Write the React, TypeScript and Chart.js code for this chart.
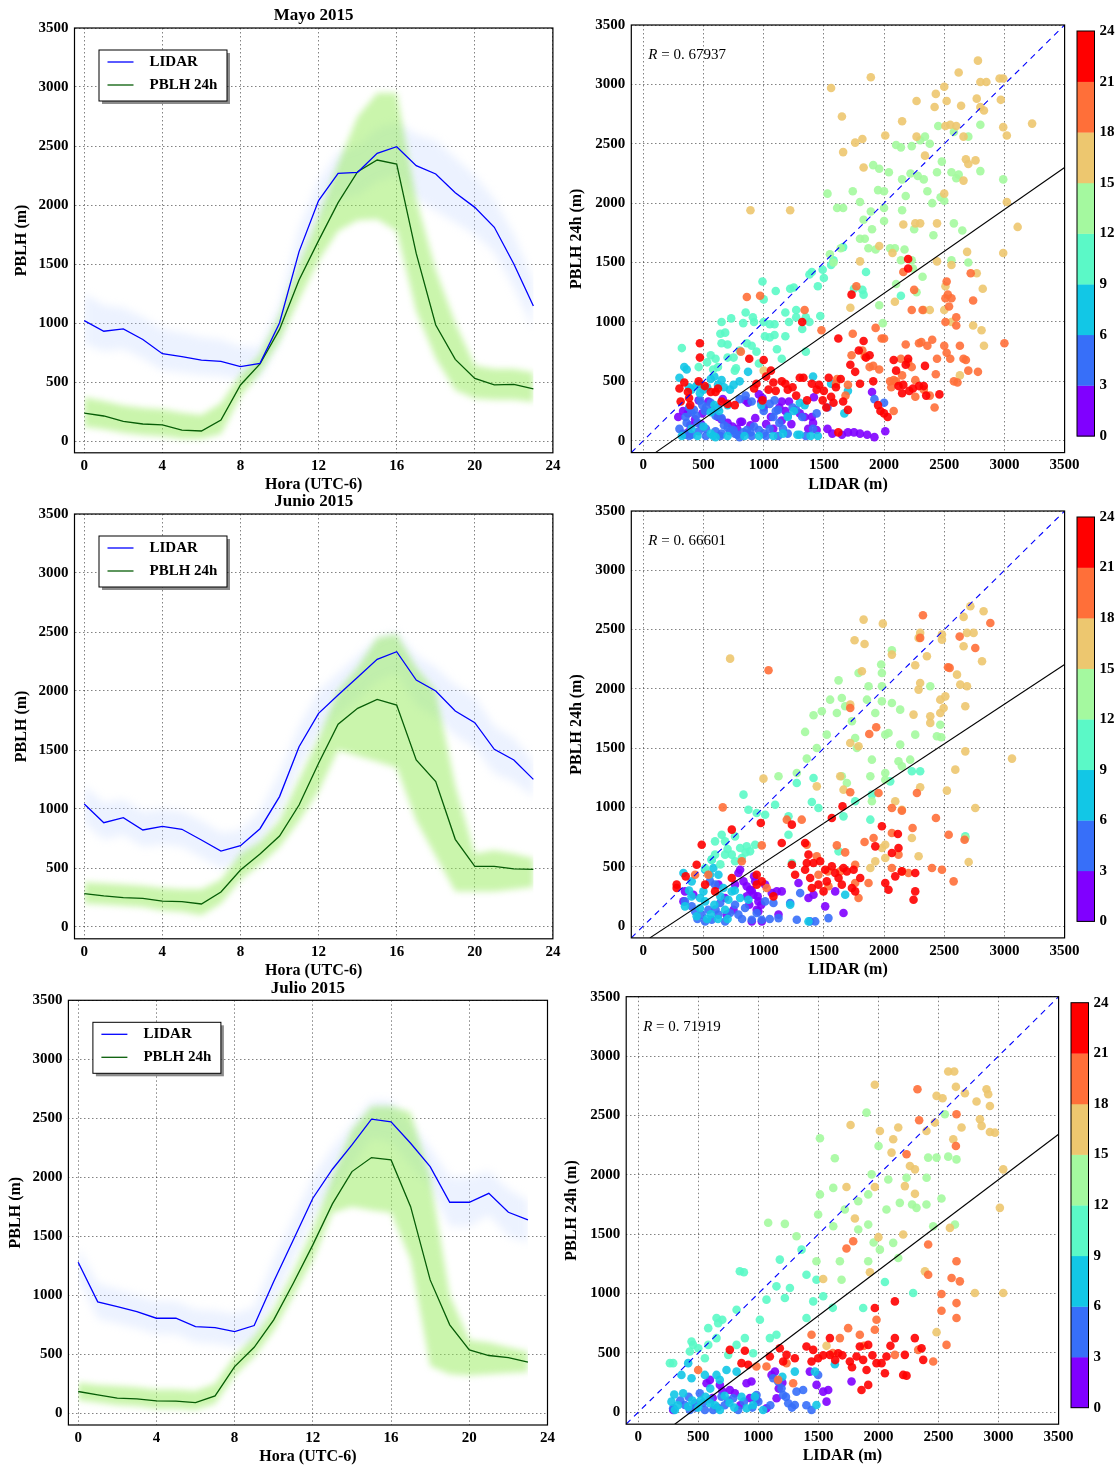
import React, { useEffect, useRef } from 'react';
import { Chart, registerables } from 'chart.js';

const softFill = {
  id: 'softFill',
  beforeDatasetDraw(chart: any, args: any) {
    const ds = chart.data.datasets[args.index];
    if (ds && ds.soft) { chart.ctx.save(); chart.ctx.filter = `blur(${ds.soft}px)`; }
  },
  afterDatasetDraw(chart: any, args: any) {
    const ds = chart.data.datasets[args.index];
    if (ds && ds.soft) chart.ctx.restore();
  },
};
Chart.register(softFill as any);
Chart.register(...registerables);

// ---------------- DATA ----------------
const HOURS = [0,1,2,3,4,5,6,7,8,9,10,11,12,13,14,15,16,17,18,19,20,21,22,23];
const HOUR_TICKS = [0,4,8,12,16,20,24];
const PBLH_TICKS = [0,500,1000,1500,2000,2500,3000,3500];
const CB_TICKS = [0,3,6,9,12,15,18,21,24];
const BAND_COLORS = ['#8000ff','#376ff9','#12c7e6','#5bf9c7','#a4f99f','#edc76f','#ff6f39','#ff0000'];
const SERIES_NAMES = ['LIDAR', 'PBLH 24h'];

// Mayo 2015
const mayoLidar = [1020,930,950,860,740,715,685,675,630,658,1000,1605,2037,2268,2277,2438,2494,2333,2263,2104,1980,1811,1500,1144];
const mayoLidarLo = [820,760,780,700,600,580,560,550,520,540,850,1400,1850,2050,2080,2200,2250,2050,1950,1850,1750,1600,1300,950];
const mayoLidarHi = [1250,1150,1130,1050,950,920,880,860,800,800,1150,1800,2200,2450,2500,2650,2700,2600,2550,2400,2250,2050,1750,1350];
const mayoPblh = [237,212,167,144,136,93,85,178,475,653,946,1364,1698,2020,2282,2381,2347,1590,983,692,531,475,480,441];
const mayoPblhLo = [120,100,70,50,40,20,20,60,380,580,850,1200,1530,1780,1870,1880,1780,1100,700,430,360,350,350,330];
const mayoPblhHi = [370,340,300,280,270,240,220,320,560,730,1060,1500,1900,2350,2750,2950,2950,2050,1450,1000,640,610,610,580];

// Junio 2015
const junioLidar = [1042,884,927,822,853,828,737,644,689,833,1105,1528,1811,1966,2116,2268,2333,2093,2000,1831,1732,1506,1415,1251];
const junioLidarLo = [880,740,780,680,700,680,590,500,550,690,950,1350,1620,1800,1930,2080,2150,1880,1780,1620,1520,1300,1230,1100];
const junioLidarHi = [1200,1050,1080,980,1000,980,900,800,820,980,1300,1700,2000,2150,2300,2450,2500,2300,2200,2050,1950,1700,1600,1400];
const junioPblh = [282,263,249,243,220,215,195,297,483,619,771,1034,1387,1718,1853,1929,1881,1415,1232,743,514,514,492,489];
const junioPblhLo = [200,190,180,170,140,130,100,200,400,530,680,900,1150,1500,1450,1400,1350,900,600,300,300,300,320,340];
const junioPblhHi = [380,370,360,350,330,320,320,400,620,720,900,1250,1600,2000,2200,2450,2480,2200,2000,1200,620,650,620,580];

// Julio 2015
const julioLidar = [1280,944,904,862,805,805,734,726,692,743,1116,1469,1822,2068,2274,2492,2469,2288,2090,1788,1788,1864,1703,1638];
const julioLidarLo = [1150,800,760,720,670,670,600,590,560,600,950,1300,1650,1880,2100,2330,2300,2100,1920,1580,1580,1680,1500,1450];
const julioLidarHi = [1400,1100,1050,1000,950,950,880,870,840,900,1300,1650,2000,2250,2450,2650,2650,2450,2250,2000,2000,2050,1900,1800];
const julioPblh = [184,155,127,121,105,102,90,147,395,559,791,1102,1427,1774,2048,2167,2147,1751,1130,749,537,489,472,432];
const julioPblhLo = [110,90,70,60,40,40,30,80,320,480,700,1000,1300,1700,1750,1720,1700,1300,400,330,320,330,340,350];
const julioPblhHi = [260,240,230,220,200,200,190,250,480,650,880,1200,1560,2000,2400,2600,2600,2550,2000,1000,620,600,560,520];

// Scatter: [LIDAR, PBLH 24h] grouped by hour band (0-3, 3-6, ..., 21-24)
const mayoH00 = [[290,200],[330,250],[370,230],[390,130],[430,180],[460,340],[490,230],[540,330],[580,260],[620,200],[660,350],[700,150],[740,120],[780,100],[820,160],[850,340],[890,130],[930,190],[960,390],[980,330],[1000,280],[1020,140],[1060,200],[1080,100],[1130,280],[1150,170],[1180,250],[1210,330],[1230,140],[1300,230],[1340,200],[1370,100],[1400,200],[1410,150],[1440,90],[1530,100],[1570,60],[1650,50],[1700,70],[1750,70],[1800,60],[1860,50],[1920,30],[2010,80],[1900,410],[1150,330],[990,360],[870,320],[650,180],[480,140],[375,73],[806,159],[1417,366]];
const mayoH03 = [[300,100],[330,60],[350,200],[360,150],[380,280],[400,240],[420,260],[440,210],[450,150],[470,340],[490,300],[510,250],[520,280],[560,320],[580,250],[600,210],[620,280],[650,190],[670,130],[700,110],[720,80],[750,90],[780,50],[800,30],[830,70],[860,90],[890,70],[920,120],[960,90],[1000,60],[1050,100],[1080,200],[1100,250],[1130,150],[1160,100],[1000,250],[1050,310],[1090,340],[1120,260],[800,350],[850,380],[900,330],[1200,210],[1240,280],[1270,260],[1320,200],[1440,230],[1410,100],[1530,280],[1920,350],[2000,320],[600,80],[650,60],[400,50],[460,80],[520,100],[350,50],[380,40],[520,40],[640,40],[760,60],[900,40],[1020,40],[1120,40],[1200,60],[1350,40]];
const mayoH06 = [[300,530],[340,620],[360,600],[380,450],[400,430],[440,460],[460,480],[470,400],[500,430],[530,450],[560,520],[590,540],[620,470],[650,510],[670,450],[700,300],[720,430],[750,470],[800,500],[870,580],[1410,540],[1560,480],[1700,420],[1670,230],[1280,50],[1300,50],[1390,40],[1450,40],[500,120],[400,100],[560,60],[600,30],[320,40],[450,40],[580,40],[700,40],[840,40],[960,40],[1080,40],[1160,60],[1250,250],[1300,320],[1340,300],[1200,200],[980,300],[590,300],[560,240],[630,250]];
const mayoH09 = [[320,780],[560,720],[600,690],[620,620],[650,1000],[640,900],[680,910],[650,820],[700,810],[730,1030],[750,700],[770,610],[800,760],[830,990],[850,1080],[860,820],[900,800],[910,1040],[920,1000],[940,750],[960,650],[990,1340],[1000,1190],[1010,880],[1000,1000],[1050,980],[1090,980],[1090,890],[1100,1260],[1110,770],[1150,690],[1180,1080],[1180,880],[1210,1000],[1220,1280],[1250,1290],[1270,1040],[1320,940],[1350,1040],[1350,750],[1380,1400],[1400,1420],[1450,1300],[1470,1050],[1490,1440],[1500,1370],[1560,1480],[1580,1520],[1660,1630],[1750,1280],[1820,1270],[1830,1230],[1850,1420],[2140,1220],[1380,1000],[700,700],[580,600],[460,620],[530,660],[760,590],[1270,1100],[1050,870]];
const mayoH12 = [[1530,2080],[1610,1960],[1660,1960],[1740,2100],[1800,2010],[1800,1700],[1840,1700],[1870,1620],[1890,1930],[1900,1780],[1910,2320],[1950,2110],[1960,2290],[2000,2100],[2000,1960],[2000,1850],[2040,2260],[2050,1620],[2100,2490],[2140,2470],[2150,2200],[2150,1940],[2180,2060],[2220,2250],[2230,2480],[2230,1520],[2250,1780],[2280,2230],[2300,2530],[2330,2200],[2340,2560],[2360,2100],[2380,2500],[2400,2000],[2410,1730],[2440,2260],[2450,2650],[2470,2050],[2480,2350],[2500,2020],[2560,2260],[2580,2600],[2580,1830],[2600,2210],[2620,2240],[2650,1770],[2700,2560],[2800,2660],[2800,2270],[2990,2200],[2560,1520],[2140,1520],[1640,1620],[1580,1500],[1550,1570],[2240,1450],[2090,1620],[1830,1860],[2170,1610],[1930,1610],[2320,1380],[1960,1140],[1990,990],[2100,1320],[2270,1250],[2700,1500]];
const mayoH15 = [[1560,2970],[1650,2730],[1890,3060],[1660,2430],[1760,2510],[1820,2540],[1830,2300],[2010,2570],[2150,2690],[2270,2560],[2270,2860],[2340,2400],[2430,2920],[2420,2810],[2500,2980],[2520,2860],[2510,2650],[2550,2660],[2620,3100],[2640,2820],[2600,2650],[2660,2560],[2680,2370],[2700,2330],[2660,2190],[2780,3200],[2800,3020],[2850,3020],[2800,2810],[2830,2780],[2770,2880],[2760,2360],[2960,3050],[2990,3050],[2970,2870],[2990,2640],[3020,2570],[3230,2670],[3020,2010],[3110,1800],[2990,1580],[2770,1410],[2820,1280],[2810,930],[2830,800],[2740,970],[2690,1590],[2560,1480],[2440,1510],[2440,1830],[2260,1830],[2160,1820],[2500,2080],[2070,1580],[1960,1640],[1800,1510],[1720,1120],[2090,1170],[2330,1100],[2510,1300],[2500,1100],[2560,1000],[2300,1830],[2630,550],[890,1940],[1220,1940],[1000,590],[2380,1100]];
const mayoH18 = [[1480,930],[1740,900],[1770,1300],[1820,760],[1930,950],[1980,860],[2000,860],[1880,620],[1910,630],[1960,600],[2050,500],[2060,450],[2080,510],[2100,500],[2150,550],[2140,690],[2160,1420],[2180,810],[2200,660],[2230,620],[2260,510],[2290,820],[2310,830],[2320,1100],[2360,800],[2380,380],[2400,850],[2420,280],[2430,560],[2440,690],[2500,800],[2510,1000],[2510,1200],[2520,1340],[2530,1230],[2540,1130],[2560,1200],[2600,1040],[2600,970],[2630,800],[2660,690],[2680,680],[2700,590],[2720,1410],[2740,1180],[2780,580],[3000,820],[2520,740],[2580,500],[2550,690],[2610,490],[1600,480],[1700,470],[1680,380],[1730,720],[1840,710],[1610,520],[2250,1270],[2230,1100],[2330,430],[2260,370],[2080,250],[810,750],[860,1210],[970,1220],[1340,1100]];
const mayoH21 = [[300,440],[310,330],[340,490],[370,410],[380,360],[390,300],[460,500],[470,820],[470,700],[510,460],[560,410],[600,410],[620,440],[650,330],[700,310],[760,300],[880,690],[920,440],[940,480],[990,340],[1000,680],[1020,540],[1040,430],[1060,590],[1080,490],[1100,420],[1150,500],[1180,480],[1200,430],[1240,450],[1270,380],[1300,530],[1330,530],[1360,340],[1400,480],[1440,430],[1460,470],[1490,340],[1500,420],[1520,280],[1540,530],[1560,370],[1580,320],[1600,450],[1620,860],[1640,520],[1660,330],[1700,260],[1720,640],[1760,580],[1790,760],[1800,480],[1830,840],[1850,700],[1880,720],[1910,500],[1950,300],[1970,250],[2000,230],[2030,200],[2080,680],[2100,590],[2120,460],[2150,400],[2160,470],[2180,640],[2200,690],[2210,420],[2240,440],[2290,460],[2330,460],[2340,630],[2350,380],[2460,390],[1620,70],[1320,1000],[2200,1530],[2200,1450],[1730,1230]];

const junioH00 = [[346,292],[333,208],[416,264],[624,349],[679,236],[693,96],[749,138],[790,447],[804,475],[832,377],[859,335],[887,306],[915,264],[929,377],[956,208],[942,138],[956,124],[984,39],[901,39],[1012,349],[1067,278],[1109,292],[1150,292],[1123,96],[1289,363],[1372,236],[1414,264],[1511,166],[1594,292],[1663,110],[762,349],[880,180],[920,420],[860,250],[900,300],[950,250],[980,180]];
const junioH03 = [[346,208],[402,166],[430,124],[485,96],[513,39],[568,53],[540,138],[624,96],[679,39],[638,194],[762,180],[790,96],[845,152],[901,53],[942,110],[984,53],[1012,208],[1081,194],[1123,67],[1275,53],[1303,278],[1386,39],[1428,39],[1538,67],[1220,194],[554,377],[596,349],[450,60],[600,140],[720,110],[820,60],[1050,60]];
const junioH06 = [[333,447],[402,377],[346,166],[443,82],[499,292],[554,433],[582,489],[624,433],[665,321],[707,222],[679,138],[735,292],[804,236],[873,222],[513,208],[471,236],[513,475],[568,560],[1220,180],[1372,39],[1677,264],[560,100],[620,60],[470,150],[400,250],[700,60],[530,60],[640,250],[760,300],[380,300],[590,180]];
const junioH09 = [[832,1108],[873,981],[942,953],[1012,939],[1095,1023],[1206,925],[1275,1206],[1414,1248],[1400,1046],[651,770],[679,714],[762,756],[804,658],[859,672],[887,630],[929,686],[735,602],[762,546],[818,574],[679,602],[1206,770],[1455,995],[1760,1052],[1899,1108],[1886,897],[1663,925],[1234,531],[1622,630],[596,602],[568,560],[513,489],[2675,756],[2300,1305],[2231,1305],[2051,1220],[596,714],[700,650],[850,620],[640,520]];
const junioH12 = [[2065,2326],[1976,2205],[1982,2134],[1622,2072],[1788,2134],[1871,2022],[1982,2022],[2384,2022],[1552,1909],[1483,1811],[1414,1777],[1344,1637],[1649,1923],[1677,1853],[1608,1797],[1733,1727],[1858,1909],[1927,1797],[1982,1895],[2065,1881],[2010,1614],[2037,1628],[2134,1825],[2259,1614],[2467,1698],[2439,1600],[2475,1592],[1441,1502],[1358,1412],[1524,1614],[1760,1586],[1774,1502],[1899,1403],[2134,1530],[2120,1389],[2148,1347],[2217,1403],[2010,1291],[2010,1234],[1886,1263],[1899,1052],[1649,1263],[1691,1206],[1123,1263],[1275,1291],[2675,742]];
const junioH15 = [[721,2255],[1830,2584],[1990,2550],[1755,2410],[1838,2379],[2300,2472],[2287,2430],[2481,2458],[2481,2415],[2661,2607],[2717,2697],[2827,2655],[2689,2472],[2744,2472],[2661,2359],[2814,2233],[2356,2275],[2259,2199],[2065,2289],[1816,2148],[2300,2050],[2287,1994],[2606,2120],[2633,2036],[2689,2022],[2467,1909],[2509,1937],[2495,1839],[2675,1853],[2245,1783],[2384,1769],[2467,1797],[2384,1713],[1719,1867],[1719,1544],[1788,1516],[2675,1473],[3063,1412],[2592,1319],[2522,1142],[2300,1170],[2093,1052],[2148,981],[2231,742],[2287,588],[2703,540],[2758,995],[1636,1263],[1663,1150],[1441,1178],[998,1243],[1982,658],[2010,686],[1927,545],[1886,489],[2010,574]];
const junioH18 = [[2323,2621],[2300,2430],[2883,2556],[2758,2345],[2531,2182],[2545,2177],[2628,2441],[1040,2157],[1719,1839],[1935,1676],[1877,1620],[1719,1128],[1954,1122],[2065,995],[2148,973],[2273,1122],[2431,911],[2537,770],[2669,728],[2237,827],[1838,709],[1913,742],[2065,785],[2120,602],[2065,489],[2148,461],[2203,447],[2398,489],[2481,475],[2578,377],[660,1001],[984,680],[1192,897],[1316,897],[1608,680],[1677,621],[1358,686],[1441,588],[1533,461],[1760,363],[1871,363],[1025,321],[818,546],[430,433],[540,433],[1455,433],[1636,461],[1788,236],[1538,335],[1760,517]];
const junioH21 = [[485,686],[735,813],[976,869],[1234,855],[1150,700],[1344,700],[1566,911],[1655,1009],[1982,841],[2115,776],[2065,616],[2120,658],[1927,672],[1372,602],[1358,531],[1413,531],[1469,546],[1234,517],[1261,433],[1344,475],[1386,405],[1511,475],[1566,503],[1663,489],[1594,447],[1524,377],[1622,405],[1691,461],[1747,475],[1802,405],[1733,321],[1760,292],[1649,349],[1400,321],[1455,349],[1497,292],[2093,419],[2148,461],[2259,447],[2010,363],[2037,306],[2259,292],[2245,222],[443,517],[352,419],[277,349],[277,321],[513,349],[735,405],[942,433],[942,349],[1081,250],[984,377],[596,292]];

const julioH00 = [[291,20],[569,245],[597,273],[680,231],[763,188],[805,160],[902,245],[943,259],[985,104],[1068,34],[1110,315],[1138,343],[1152,118],[1429,343],[1485,231],[1540,174],[1582,188],[1568,90],[1776,259],[620,120],[850,60],[1170,200],[700,180],[930,120],[1200,250]];
const julioH03 = [[291,34],[388,62],[430,20],[472,76],[513,160],[555,20],[624,20],[832,20],[985,146],[1124,287],[1165,259],[1193,202],[1207,146],[1249,76],[1318,174],[1373,188],[1443,20],[1498,315],[1304,62],[694,132],[791,118],[720,60],[880,90],[1100,60],[1400,60],[350,100],[420,130],[480,40],[540,80],[600,110],[660,40],[750,100],[950,40],[1000,90],[1230,130],[1280,40]];
const julioH06 = [[416,414],[360,315],[444,287],[555,315],[652,315],[735,357],[679,273],[819,343],[277,90],[305,20],[374,160],[416,48],[597,76],[680,20],[902,34],[957,62],[1040,20],[1304,343],[1471,343],[1637,405],[1484,62],[971,132],[520,100],[760,80],[1200,300],[330,60],[450,100],[500,40],[560,130],[640,60],[720,140],[800,40],[860,130],[300,150],[600,200]];
const julioH09 = [[846,1188],[1179,1286],[1360,1370],[1263,1047],[1151,1061],[1221,963],[1068,949],[1401,1159],[1484,1117],[1457,934],[1540,977],[1401,794],[1873,878],[2054,1097],[2289,1005],[819,864],[652,794],[666,751],[583,709],[444,597],[457,568],[583,568],[652,625],[819,568],[888,625],[1013,780],[1096,625],[1151,653],[957,498],[749,484],[264,414],[291,414],[430,512],[555,456],[1620,880],[700,780],[880,1180],[500,540]];
const julioH12 = [[1901,2524],[1513,2308],[1637,2139],[2001,2243],[1943,2004],[2082,1961],[2234,1975],[2401,1975],[2414,2145],[2484,2145],[2581,2153],[2650,2130],[2553,2510],[1513,1835],[1624,1890],[1720,1708],[1832,1778],[1915,1835],[2067,1708],[2178,1764],[2317,1722],[2525,1801],[1498,1666],[1624,1567],[1832,1539],[1915,1581],[2012,1370],[2123,1427],[1484,1272],[1679,1272],[1693,1117],[1915,1272],[2165,1300],[2456,1567],[2637,1581],[1082,1596],[1221,1587],[1318,1483],[2280,1750],[2400,1750],[1960,1430]];
const julioH15 = [[1970,2758],[2581,2870],[2631,2870],[2645,2741],[2484,2665],[2534,2645],[2720,2687],[2900,2721],[2914,2679],[2817,2617],[2928,2580],[2692,2398],[2845,2468],[2859,2412],[2928,2361],[2970,2355],[2470,2440],[2400,2369],[2165,2398],[2012,2369],[1768,2420],[2123,2299],[2109,2187],[2262,2074],[2304,2046],[2623,2299],[1970,1897],[1734,1897],[2220,1905],[2304,1840],[3039,2046],[3011,1722],[2595,1553],[2206,1497],[2000,1475],[1804,1632],[1929,1179],[2387,1187],[1540,1123],[2803,1005],[3039,1005],[2484,675],[1568,560]];
const julioH18 = [[2325,2721],[2339,2460],[2650,2510],[2645,2243],[2234,2173],[1734,1379],[1790,1441],[2414,1413],[2414,1159],[2650,1272],[2609,1131],[2678,1103],[2525,996],[2525,855],[2650,920],[2650,794],[2567,568],[2456,428],[1984,780],[1970,695],[1845,653],[1748,709],[1443,653],[1679,625],[2137,484],[2331,526],[1068,386],[984,386],[499,357],[1235,414],[1290,245],[1165,273],[1880,560],[1620,500]];
const julioH21 = [[763,526],[888,518],[916,400],[860,414],[1096,470],[1179,540],[1235,484],[1207,428],[1304,456],[1401,554],[1457,526],[1443,428],[1498,456],[1596,484],[1665,498],[1596,625],[1762,428],[1818,470],[1845,554],[1915,568],[1873,442],[1901,357],[1984,414],[2026,414],[2067,470],[2054,329],[2137,625],[2220,484],[2303,625],[2359,540],[2373,442],[2206,315],[2234,309],[1970,878],[2137,934],[1859,188],[1915,231],[1700,480],[1640,440],[1540,480],[1780,380],[1950,480],[2100,560]];

// regression line endpoints [x0, y0, x1, y1]
const mayoFit = [100, -100, 3500, 2300];
const junioFit = [54, -100, 3500, 2206];
const julioFit = [304, -100, 3500, 2342];
const ONE_TO_ONE = [-100, -100, 3500, 3500];

// ---------------- LAYOUT ----------------
const PL = 90, PT = 40, PB = 55, YW = 60, XH = 30;
const SERIF = "'Liberation Serif', 'DejaVu Serif', serif";

function frameFor(rect: any, pr: number) {
  const cl = Math.floor(rect.L - PL), ct = Math.floor(rect.T - PT);
  const w = Math.ceil(rect.R + pr) - cl, h = Math.ceil(rect.B + PB) - ct;
  return {
    cl, ct, w, h,
    pad: { left: rect.L - cl - YW, top: rect.T - ct, right: cl + w - rect.R, bottom: ct + h - rect.B - XH },
  };
}

function axisCommon(min: number, max: number, ticks: number[], isX: boolean) {
  return {
    type: 'linear',
    min, max,
    afterBuildTicks: (s: any) => { s.ticks = ticks.map((v) => ({ value: v })); },
    afterFit: (s: any) => { if (isX) s.height = XH; else s.width = YW; },
    grid: { color: 'rgba(0,0,0,0.55)', lineWidth: 0.9, drawTicks: false },
    border: { display: false, dash: [1.5, 2.5] },
    ticks: {
      color: '#000',
      padding: isX ? 4 : 6,
      font: { family: SERIF, size: 15, weight: 'bold' },
      maxRotation: 0,
      callback: (v: any) => String(v),
    },
  };
}

function drawFrame(ctx: any, ca: any) {
  ctx.save();
  ctx.strokeStyle = '#000';
  ctx.lineWidth = 1.2;
  ctx.strokeRect(ca.left, ca.top, ca.right - ca.left, ca.bottom - ca.top);
  ctx.restore();
}

function drawTitles(ctx: any, ca: any, xTitle: string, yTitle: string, yOff: number) {
  ctx.save();
  ctx.fillStyle = '#000';
  ctx.font = `bold 16px ${SERIF}`;
  ctx.textAlign = 'center';
  ctx.textBaseline = 'middle';
  ctx.fillText(xTitle, (ca.left + ca.right) / 2, ca.bottom + 32);
  ctx.translate(ca.left - yOff, (ca.top + ca.bottom) / 2);
  ctx.rotate(-Math.PI / 2);
  ctx.fillText(yTitle, 0, 0);
  ctx.restore();
}

function LinePanel(props: any) {
  const ref = useRef<HTMLCanvasElement>(null);
  const f = frameFor(props.rect, 40);
  useEffect(() => {
    const xy = (arr: number[]) => arr.map((y, i) => ({ x: HOURS[i], y }));
    const cols = ['#0000ff', '#075d07'];
    const deco = {
      id: 'deco',
      afterDraw(chart: any) {
        const ctx = chart.ctx, ca = chart.chartArea;
        drawFrame(ctx, ca);
        drawTitles(ctx, ca, 'Hora (UTC-6)', 'PBLH (m)', 52.5);
        ctx.save();
        ctx.fillStyle = '#000';
        ctx.font = `bold 17px ${SERIF}`;
        ctx.textAlign = 'center';
        ctx.textBaseline = 'middle';
        ctx.fillText(props.title, (ca.left + ca.right) / 2, ca.top - 12);
        // legend
        const lx = ca.left + 24.5, ly = ca.top + 22, lw = 128, lh = 51;
        ctx.fillStyle = 'rgba(0,0,0,0.45)';
        ctx.fillRect(lx + 3, ly + 3, lw, lh);
        ctx.fillStyle = '#fff';
        ctx.fillRect(lx, ly, lw, lh);
        ctx.strokeStyle = '#000';
        ctx.lineWidth = 1;
        ctx.strokeRect(lx, ly, lw, lh);
        SERIES_NAMES.forEach((name, i) => {
          const yy = ca.top + 34 + i * 23;
          ctx.strokeStyle = cols[i];
          ctx.lineWidth = 1.3;
          ctx.beginPath();
          ctx.moveTo(ca.left + 33, yy);
          ctx.lineTo(ca.left + 59, yy);
          ctx.stroke();
          ctx.fillStyle = '#000';
          ctx.font = `bold 15px ${SERIF}`;
          ctx.textAlign = 'left';
          ctx.fillText(name, ca.left + 75, yy);
        });
        ctx.restore();
      },
    };
    // dataset index 0 is painted last (on top)
    const chart = new Chart(ref.current as any, {
      type: 'line',
      data: {
        datasets: [
          { data: xy(props.lidar), borderColor: cols[0], borderWidth: 1.3, pointRadius: 0, fill: false },
          { data: xy(props.pblh), borderColor: cols[1], borderWidth: 1.3, pointRadius: 0, fill: false },
          { data: xy(props.pblhHi), fill: '+1', backgroundColor: 'rgba(150,236,90,0.5)', borderWidth: 0, pointRadius: 0, soft: 3 } as any,
          { data: xy(props.pblhLo), fill: false, borderWidth: 0, pointRadius: 0 },
          { data: xy(props.lidarHi), fill: '+1', backgroundColor: 'rgba(185,208,255,0.28)', borderWidth: 0, pointRadius: 0, soft: 4 } as any,
          { data: xy(props.lidarLo), fill: false, borderWidth: 0, pointRadius: 0 },
        ],
      },
      options: {
        animation: false,
        responsive: false,
        events: [],
        layout: { padding: f.pad },
        plugins: { legend: { display: false }, tooltip: { enabled: false }, title: { display: false } },
        scales: {
          x: axisCommon(-0.5, 24, HOUR_TICKS, true),
          y: axisCommon(-100, 3500, PBLH_TICKS, false),
        },
      } as any,
      plugins: [deco],
    });
    return () => chart.destroy();
  }, []);
  return (
    <canvas ref={ref} width={f.w} height={f.h}
      style={{ position: 'absolute', left: f.cl, top: f.ct, width: f.w, height: f.h }} />
  );
}

function ScatterPanel(props: any) {
  const ref = useRef<HTMLCanvasElement>(null);
  const f = frameFor(props.rect, 58);
  useEffect(() => {
    const pts = (arr: number[][]) => arr.map((p) => ({ x: p[0], y: p[1] }));
    const seg = (s: number[]) => [{ x: s[0], y: s[1] }, { x: s[2], y: s[3] }];
    const deco = {
      id: 'deco',
      afterDraw(chart: any) {
        const ctx = chart.ctx, ca = chart.chartArea;
        drawFrame(ctx, ca);
        drawTitles(ctx, ca, 'LIDAR (m)', 'PBLH 24h (m)', 54.5);
        ctx.save();
        // R annotation
        ctx.fillStyle = '#000';
        ctx.textBaseline = 'middle';
        ctx.textAlign = 'left';
        ctx.font = `italic 15px ${SERIF}`;
        const rx = ca.left + 17, ry = ca.top + 30;
        ctx.fillText('R', rx, ry);
        const rw = ctx.measureText('R').width;
        ctx.font = `15px ${SERIF}`;
        ctx.fillText(' = ' + props.r, rx + rw, ry);
        // colorbar
        const cbL = ca.right + 12.4, cbW = 17.5, cbT = ca.top + 6, cbB = ca.bottom - 16.5;
        const n = BAND_COLORS.length, bh = (cbB - cbT) / n;
        BAND_COLORS.forEach((c, i) => {
          ctx.fillStyle = c;
          ctx.fillRect(cbL, cbB - (i + 1) * bh, cbW, bh + 0.3);
        });
        ctx.strokeStyle = '#000';
        ctx.lineWidth = 1;
        ctx.strokeRect(cbL, cbT, cbW, cbB - cbT);
        ctx.fillStyle = '#000';
        ctx.font = `bold 15px ${SERIF}`;
        const maxT = CB_TICKS[CB_TICKS.length - 1];
        CB_TICKS.forEach((t) => {
          ctx.fillText(String(t), cbL + cbW + 5, cbB - (t / maxT) * (cbB - cbT));
        });
        ctx.restore();
      },
    };
    const bandSets = props.bands.map((b: number[][], i: number) => ({
      data: pts(b), backgroundColor: BAND_COLORS[i] + 'e6', pointRadius: 4.3, borderWidth: 0, showLine: false,
    })).reverse();
    const chart = new Chart(ref.current as any, {
      type: 'scatter',
      data: {
        datasets: [
          { data: seg(ONE_TO_ONE), showLine: true, borderColor: '#0000ff', borderWidth: 1.1, borderDash: [6, 5], pointRadius: 0, fill: false },
          { data: seg(props.fit), showLine: true, borderColor: '#000', borderWidth: 1.1, pointRadius: 0, fill: false },
          ...bandSets,
        ],
      },
      options: {
        animation: false,
        responsive: false,
        events: [],
        layout: { padding: f.pad },
        plugins: { legend: { display: false }, tooltip: { enabled: false }, title: { display: false } },
        scales: {
          x: axisCommon(-100, 3500, PBLH_TICKS, true),
          y: axisCommon(-100, 3500, PBLH_TICKS, false),
        },
      } as any,
      plugins: [deco],
    });
    return () => chart.destroy();
  }, []);
  return (
    <canvas ref={ref} width={f.w} height={f.h}
      style={{ position: 'absolute', left: f.cl, top: f.ct, width: f.w, height: f.h }} />
  );
}

export default function App() {
  return (
    <div style={{ position: 'absolute', left: 0, top: 0, width: 1120, height: 1468, overflow: 'hidden', background: '#fff' }}>
      <LinePanel rect={{ L: 74.5, T: 28, R: 552.9, B: 452.8 }} title="Mayo 2015"
        lidar={mayoLidar} lidarLo={mayoLidarLo} lidarHi={mayoLidarHi}
        pblh={mayoPblh} pblhLo={mayoPblhLo} pblhHi={mayoPblhHi} />
      <LinePanel rect={{ L: 74.5, T: 514, R: 552.9, B: 938.8 }} title="Junio 2015"
        lidar={junioLidar} lidarLo={junioLidarLo} lidarHi={junioLidarHi}
        pblh={junioPblh} pblhLo={junioPblhLo} pblhHi={junioPblhHi} />
      <LinePanel rect={{ L: 68.4, T: 1000.3, R: 547.5, B: 1425 }} title="Julio 2015"
        lidar={julioLidar} lidarLo={julioLidarLo} lidarHi={julioLidarHi}
        pblh={julioPblh} pblhLo={julioPblhLo} pblhHi={julioPblhHi} />
      <ScatterPanel rect={{ L: 631.3, T: 25, R: 1064.6, B: 452.6 }} r="0. 67937" fit={mayoFit}
        bands={[mayoH00, mayoH03, mayoH06, mayoH09, mayoH12, mayoH15, mayoH18, mayoH21]} />
      <ScatterPanel rect={{ L: 631.3, T: 511, R: 1064.6, B: 937.9 }} r="0. 66601" fit={junioFit}
        bands={[junioH00, junioH03, junioH06, junioH09, junioH12, junioH15, junioH18, junioH21]} />
      <ScatterPanel rect={{ L: 626.2, T: 996.7, R: 1058.6, B: 1424.2 }} r="0. 71919" fit={julioFit}
        bands={[julioH00, julioH03, julioH06, julioH09, julioH12, julioH15, julioH18, julioH21]} />
    </div>
  );
}
